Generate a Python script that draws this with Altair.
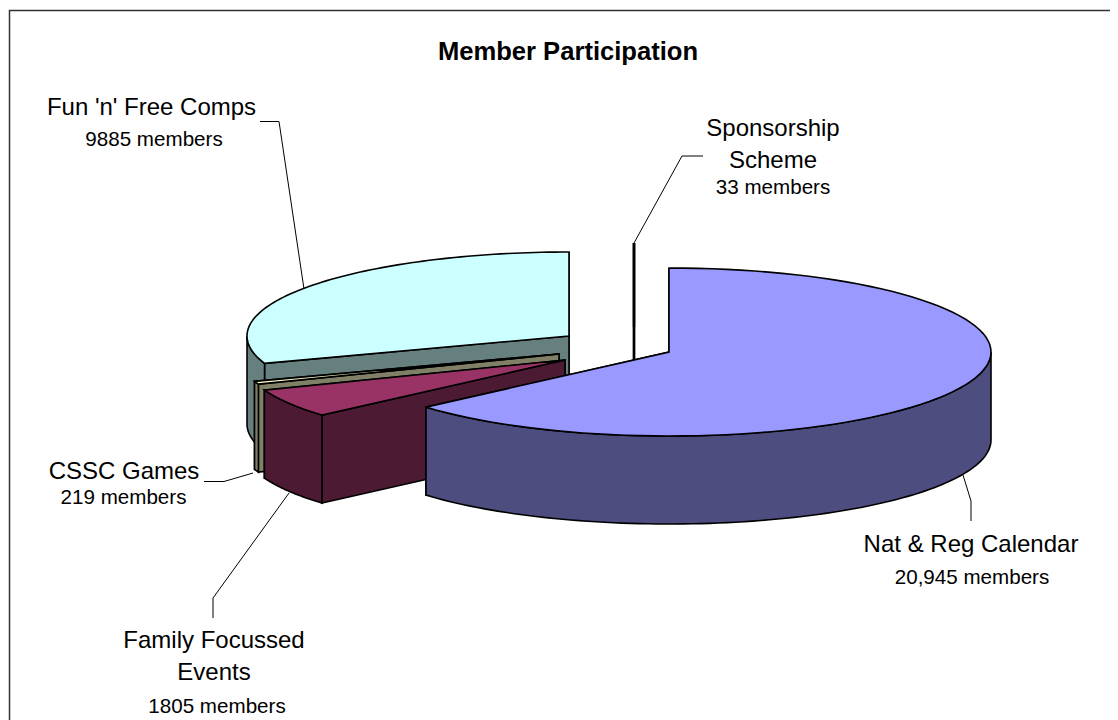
import numpy as np
import altair as alt

# Slices, in drawing sequence clockwise from 12 o'clock
NAMES = ["Nat & Reg Calendar", "Family Focussed Events", "CSSC Games", "Fun 'n' Free Comps", "Sponsorship Scheme"]
MEMBERS = [20945, 1805, 219, 9885, 33]
TOP_COLORS = ["#9999FF", "#993366", "#FFFFCC", "#CCFFFF", "#FFFFFF"]
SIDE_COLORS = ["#4D4D80", "#4D1A33", "#808066", "#668080", "#000000"]
EDGE_WIDTHS = [1.6, 1.6, 1.6, 1.6, 2.4]
APEX_X = [669, 565, 559, 569, 634]
APEX_Y = [352, 360, 354, 336, 327]

RX, RY, DEPTH = 322, 84, 88
OFFSET = 8  # page margin

LABEL_TEXT = ["Member Participation", "Fun 'n' Free Comps", "9885 members", "Sponsorship", "Scheme", "33 members",
              "Nat & Reg Calendar", "20,945 members", "CSSC Games", "219 members",
              "Family Focussed", "Events", "1805 members"]
LABEL_X = [568, 151.5, 154, 773, 773, 773, 971, 972, 124, 123.5, 214, 214, 217]
LABEL_Y = [60, 115, 146, 136, 168, 194, 552, 584, 479, 504, 648, 680, 713]
LABEL_SIZE = [25.6, 24, 20.6, 24, 24, 20.6, 24, 20.6, 24, 20.6, 24, 24, 20.6]
LABEL_WEIGHT = ["bold"] + ["normal"] * 12

LEADERS = [
    [(260, 121.5), (279, 121.5), (304, 289)],
    [(703, 156), (682, 156), (634, 243)],
    [(963, 475), (971, 501), (971, 521)],
    [(213, 618), (213, 598), (289, 493)],
    [(204, 481.5), (224, 481.5), (253, 473)],
]
FRAME = [(9.5, 720), (9.5, 10.5), (1118, 10.5)]

total = sum(MEMBERS)
# the 3-D pie renders its slice boundaries at whole degrees
fracs = np.radians(np.round(np.cumsum([0] + MEMBERS) / total * 360))


def rim(i, a0, a1, n=90):
    t = np.linspace(a0, a1, n)
    return [(float(APEX_X[i] + RX * np.sin(v)), float(APEX_Y[i] - RY * np.cos(v))) for v in t]


def feature(ring, fill, width):
    return {"type": "Feature", "properties": {"fill": fill, "stroke": "#000000", "width": width},
            "geometry": {"type": "Polygon", "coordinates": [[list(p) for p in ring] + [list(ring[0])]]}}


def line_feature(points, stroke, width):
    return {"type": "Feature", "properties": {"stroke": stroke, "width": width},
            "geometry": {"type": "LineString", "coordinates": [list(p) for p in points]}}


def drop(points):
    return [(x, y + DEPTH) for x, y in points]


def slice_faces(i):
    a0, a1 = fracs[i], fracs[i + 1]
    w = EDGE_WIDTHS[i]
    apex = (APEX_X[i], APEX_Y[i])
    arc = rim(i, a0, a1)
    faces = []
    end = arc[-1]
    faces.append(feature([apex, end, (end[0], end[1] + DEPTH), (apex[0], apex[1] + DEPTH)], SIDE_COLORS[i], w))
    start = arc[0]
    faces.append(feature([apex, start, (start[0], start[1] + DEPTH), (apex[0], apex[1] + DEPTH)], SIDE_COLORS[i], w))
    # outer wall: only the part facing the viewer
    lo, hi = max(a0, np.pi / 2), min(a1, 3 * np.pi / 2)
    if hi > lo:
        wall = rim(i, lo, hi)
        faces.append(feature(wall + drop(wall)[::-1], SIDE_COLORS[i], w))
    faces.append(feature([apex] + arc, TOP_COLORS[i], w))
    return faces


# Back-to-front: Fun, Sponsorship, CSSC, Family, Nat
polys = []
for i in [3, 4, 2, 1, 0]:
    polys += slice_faces(i)

lines = [line_feature(p, "#000000", 1) for p in LEADERS] + [line_feature(FRAME, "#333333", 1.5)]

width, height = 1102, 712
proj = dict(type="identity", scale=1, translate=[-OFFSET, -OFFSET])

pie = alt.Chart(alt.Data(values=polys)).mark_geoshape(strokeJoin="miter").encode(
    fill=alt.Fill("properties.fill:N", scale=None),
    stroke=alt.Stroke("properties.stroke:N", scale=None),
    strokeWidth=alt.StrokeWidth("properties.width:Q", scale=None),
).project(**proj)

leader = alt.Chart(alt.Data(values=lines)).mark_geoshape(filled=False).encode(
    stroke=alt.Stroke("properties.stroke:N", scale=None),
    strokeWidth=alt.StrokeWidth("properties.width:Q", scale=None),
).project(**proj)

rows = [{"t": t, "x": x - OFFSET, "y": y - OFFSET, "s": s, "w": w}
        for t, x, y, s, w in zip(LABEL_TEXT, LABEL_X, LABEL_Y, LABEL_SIZE, LABEL_WEIGHT)]

normal = alt.Chart(alt.Data(values=[r for r in rows if r["w"] == "normal"])).mark_text(
    font="Liberation Sans", align="center", baseline="alphabetic", color="#000000"
).encode(
    x=alt.X("x:Q", scale=None), y=alt.Y("y:Q", scale=None),
    text="t:N", size=alt.Size("s:Q", scale=None),
)
bold = alt.Chart(alt.Data(values=[r for r in rows if r["w"] == "bold"])).mark_text(
    font="Liberation Sans", fontWeight="bold", align="center", baseline="alphabetic", color="#000000"
).encode(
    x=alt.X("x:Q", scale=None), y=alt.Y("y:Q", scale=None),
    text="t:N", size=alt.Size("s:Q", scale=None),
)

chart = alt.layer(pie, leader, normal, bold).properties(
    width=width, height=height, padding=0, background="#FFFFFF",
    autosize=alt.AutoSizeParams(type="none"),
).configure_view(stroke=None)

chart.save("out.html", embed_options={"renderer": "svg", "actions": False})
